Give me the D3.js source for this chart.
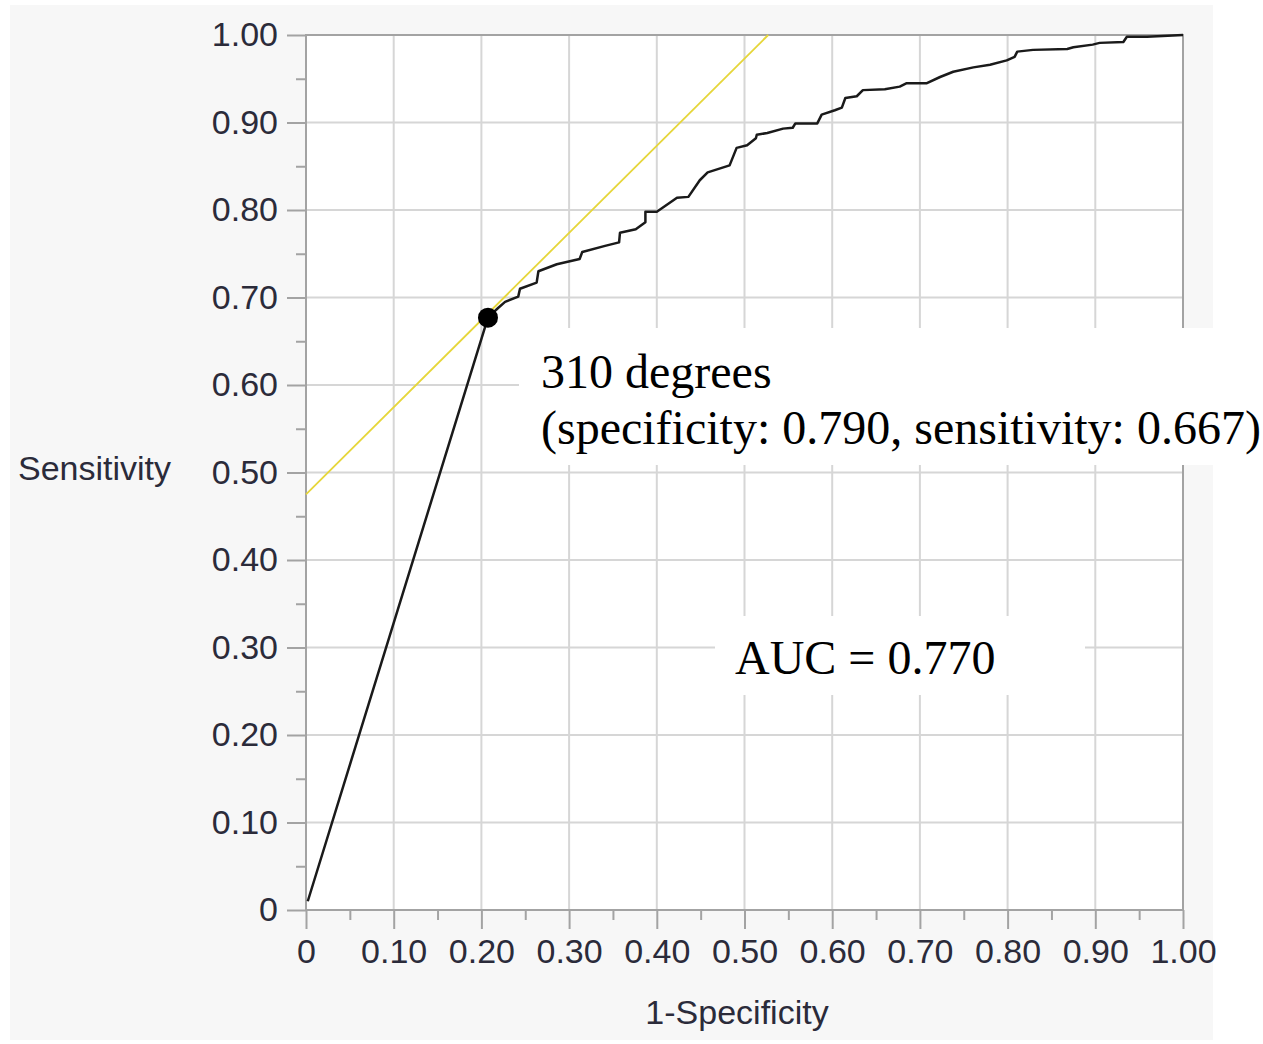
<!DOCTYPE html>
<html>
<head>
<meta charset="utf-8">
<script src="https://cdn.jsdelivr.net/npm/d3@7"></script>
<style>
  body { margin: 0; background: #fff; }
  svg { display: block; }
</style>
</head>
<body>
<svg id="chart"></svg>
<script>
// ROC curve points (1-specificity, sensitivity)
const fpr = [0.002, 0.2075, 0.219, 0.227, 0.242, 0.244, 0.263, 0.265, 0.286, 0.312,
  0.315, 0.341, 0.357, 0.358, 0.376, 0.387, 0.387, 0.400, 0.423, 0.436,
  0.449, 0.458, 0.483, 0.491, 0.503, 0.513, 0.514, 0.526, 0.544, 0.555,
  0.558, 0.583, 0.588, 0.603, 0.611, 0.615, 0.628, 0.635, 0.660, 0.677,
  0.685, 0.708, 0.723, 0.738, 0.761, 0.780, 0.799, 0.808, 0.811, 0.829,
  0.868, 0.875, 0.897, 0.905, 0.932, 0.936, 0.959, 1.0];
const tpr = [0.010, 0.677, 0.688, 0.695, 0.701, 0.710, 0.717, 0.730, 0.738, 0.744,
  0.752, 0.759, 0.763, 0.774, 0.778, 0.786, 0.798, 0.798, 0.814, 0.815,
  0.834, 0.843, 0.851, 0.871, 0.874, 0.882, 0.886, 0.888, 0.893, 0.894,
  0.899, 0.899, 0.909, 0.914, 0.917, 0.928, 0.930, 0.937, 0.938, 0.941,
  0.945, 0.945, 0.952, 0.958, 0.963, 0.966, 0.971, 0.975, 0.981, 0.983,
  0.984, 0.986, 0.989, 0.991, 0.992, 0.998, 0.998, 1.0];

// chosen cut-off and the tangent line through it
const cutoff = [0.2075, 0.677];
const tangentX = [0, 0.527];
const tangentY = [0.475, 1.0];

const majorTicks = [0, 0.1, 0.2, 0.3, 0.4, 0.5, 0.6, 0.7, 0.8, 0.9, 1.0];
const minorTicks = [0.05, 0.15, 0.25, 0.35, 0.45, 0.55, 0.65, 0.75, 0.85, 0.95];

const xTitle = "1-Specificity";
const yTitle = "Sensitivity";
const cutoffLabel = ["310 degrees", "(specificity: 0.790, sensitivity: 0.667)"];
const aucLabel = "AUC = 0.770";

const W = 1263, H = 1044;
const plot = { left: 306, right: 1183, top: 35, bottom: 910 };
const axisColor = "#a3a3a3";
const gridColor = "#d6d6d6";
const sans = "'Liberation Sans', Arial, sans-serif";
const serif = "'Liberation Serif', 'Times New Roman', serif";

const x = d3.scaleLinear().domain([0, 1]).range([plot.left, plot.right]);
const y = d3.scaleLinear().domain([0, 1]).range([plot.bottom, plot.top]);
const fmt = d => d === 0 ? "0" : d3.format(".2f")(d);

const svg = d3.select("#chart").attr("width", W).attr("height", H);

// light gray panel and white plot area
svg.append("rect").attr("x", 10).attr("y", 5).attr("width", 1203).attr("height", 1035)
  .attr("fill", "#f7f7f7");
svg.append("rect").attr("x", plot.left).attr("y", plot.top)
  .attr("width", plot.right - plot.left).attr("height", plot.bottom - plot.top)
  .attr("fill", "#fff");

// grid lines
const inner = majorTicks.slice(1, -1);
svg.append("g").selectAll("line").data(inner).join("line")
  .attr("x1", d => x(d)).attr("x2", d => x(d))
  .attr("y1", plot.top).attr("y2", plot.bottom)
  .attr("stroke", gridColor).attr("stroke-width", 2);
svg.append("g").selectAll("line").data(inner).join("line")
  .attr("y1", d => y(d)).attr("y2", d => y(d))
  .attr("x1", plot.left).attr("x2", plot.right)
  .attr("stroke", gridColor).attr("stroke-width", 2);

const styleAxis = g => {
  g.select(".domain").remove();
  g.selectAll("line").attr("stroke", axisColor).attr("stroke-width", 2);
  g.selectAll("text")
    .attr("font-family", sans)
    .attr("font-size", 34)
    .attr("fill", "#2b2b3a");
};

// y axis
svg.append("g").attr("transform", `translate(${plot.left},0)`)
  .call(d3.axisLeft(y).tickValues(majorTicks).tickSize(19).tickPadding(9).tickFormat(fmt))
  .call(styleAxis);
svg.append("g").attr("transform", `translate(${plot.left},0)`)
  .call(d3.axisLeft(y).tickValues(minorTicks).tickSize(10).tickFormat(""))
  .call(styleAxis);

// x axis
svg.append("g").attr("transform", `translate(0,${plot.bottom})`)
  .call(d3.axisBottom(x).tickValues(majorTicks).tickSize(19).tickPadding(10).tickFormat(fmt))
  .call(styleAxis);
svg.append("g").attr("transform", `translate(0,${plot.bottom})`)
  .call(d3.axisBottom(x).tickValues(minorTicks).tickSize(10).tickFormat(""))
  .call(styleAxis);

// frame
svg.append("rect").attr("x", plot.left).attr("y", plot.top)
  .attr("width", plot.right - plot.left).attr("height", plot.bottom - plot.top)
  .attr("fill", "none").attr("stroke", axisColor).attr("stroke-width", 2);

// axis titles
svg.append("text").attr("x", 18).attr("y", 480)
  .attr("font-family", sans).attr("font-size", 34).attr("fill", "#2b2b3a")
  .text(yTitle);
svg.append("text").attr("x", 737).attr("y", 1024)
  .attr("text-anchor", "middle")
  .attr("font-family", sans).attr("font-size", 34).attr("fill", "#2b2b3a")
  .text(xTitle);

// white boxes behind the annotations
svg.append("rect").attr("x", 519).attr("y", 328).attr("width", W - 519).attr("height", 137)
  .attr("fill", "#fff");
svg.append("rect").attr("x", 715).attr("y", 616).attr("width", 370).attr("height", 79)
  .attr("fill", "#fff");

// tangent line
svg.append("line")
  .attr("x1", x(tangentX[0])).attr("y1", y(tangentY[0]))
  .attr("x2", x(tangentX[1])).attr("y2", y(tangentY[1]))
  .attr("stroke", "#e6d63a").attr("stroke-width", 1.8);

// ROC curve
const line = d3.line().x(d => x(d[0])).y(d => y(d[1]));
svg.append("path")
  .datum(d3.zip(fpr, tpr))
  .attr("d", line)
  .attr("fill", "none")
  .attr("stroke", "#1a1a1a")
  .attr("stroke-width", 2.5)
  .attr("stroke-linejoin", "round");

// cut-off point
svg.append("circle").attr("cx", x(cutoff[0])).attr("cy", y(cutoff[1])).attr("r", 10)
  .attr("fill", "#000");

// annotations
svg.append("text").attr("font-family", serif).attr("font-size", 48).attr("fill", "#000")
  .selectAll("tspan").data(cutoffLabel).join("tspan")
  .attr("x", 541).attr("y", (d, i) => 388 + i * 56)
  .text(d => d);
svg.append("text").attr("x", 735).attr("y", 674)
  .attr("font-family", serif).attr("font-size", 48).attr("fill", "#000")
  .text(aucLabel);
</script>
</body>
</html>
